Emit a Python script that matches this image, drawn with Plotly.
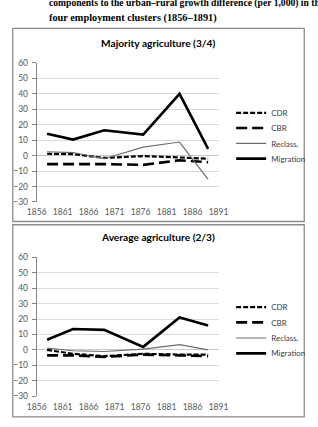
import plotly.graph_objects as go

W, H = 318, 427

years = [1858, 1863, 1869, 1876.5, 1883.5, 1889]
series_names = ["CDR", "CBR", "Reclass.", "Migration"]

maj_cdr = [1.2, 1.0, -1.5, -0.3, -1.2, -2.0]
maj_cbr = [-5.5, -5.5, -5.5, -6.0, -3.0, -4.3]
maj_reclass = [2.5, 2.0, -2.0, 5.5, 8.8, -15.3]
maj_migration = [14.2, 10.4, 16.4, 13.6, 40.0, 4.4]

avg_cdr = [0.0, -2.5, -4.0, -2.5, -3.0, -3.0]
avg_cbr = [-3.5, -3.5, -4.5, -3.0, -3.5, -4.0]
avg_reclass = [1.2, -0.5, -1.0, 0.5, 3.5, 0.0]
avg_migration = [6.6, 13.6, 13.0, 2.0, 21.0, 15.8]

panel_titles = ["Majority agriculture (3/4)", "Average agriculture (2/3)"]
header_lines = [
    "components to the urban\u2013rural growth difference (per 1,000) in the",
    "four employment clusters (1856\u20131891)",
]
x_ticks = [1856, 1861, 1866, 1871, 1876, 1881, 1886, 1891]
y_ticks = [-30, -20, -10, 0, 10, 20, 30, 40, 50, 60]

styles = {
    "CDR": dict(color="black", width=2.2, dash="5px,2px"),
    "CBR": dict(color="black", width=2.6, dash="11px,5px"),
    "Reclass.": dict(color="#6e6e6e", width=1.2),
    "Migration": dict(color="black", width=2.6),
}

def px_x(p):
    return p / W

def px_y(p):
    return 1 - p / H

fig = go.Figure()
panels = [
    (maj_cdr, maj_cbr, maj_reclass, maj_migration),
    (avg_cdr, avg_cbr, avg_reclass, avg_migration),
]
legend_rows = [[110.5, 126, 141.7, 157.3], [309.3, 325, 341, 356.7]]

layout_extra = {}
li = 0
for pi, data in enumerate(panels):
    for si, (name, vals) in enumerate(zip(series_names, data)):
        li += 1
        lname = "legend" if li == 1 else f"legend{li}"
        fig.add_trace(go.Scatter(
            x=years, y=vals, mode="lines", name=name,
            line=styles[name],
            xaxis="x" if pi == 0 else "x2",
            yaxis="y" if pi == 0 else "y2",
            legend=lname, showlegend=True,
        ))
        layout_extra[lname] = dict(
            x=px_x(236), y=px_y(legend_rows[pi][si]),
            xanchor="left", yanchor="middle",
            bgcolor="rgba(0,0,0,0)", borderwidth=0,
            font=dict(family="Lato, sans-serif", size=8, color="#404040"),
            itemwidth=30,
        )

tickfont = dict(family="Lato, sans-serif", size=8.5, color="#595959")
xd = [px_x(28.5), px_x(222.5)]
xcommon = dict(domain=xd, range=[1856, 1891], tickvals=x_ticks, showgrid=False,
               zeroline=False, showline=False, ticks="", tickfont=tickfont,
               ticklabelstandoff=4)
ycommon = dict(range=[-30, 60], tickvals=y_ticks,
               showgrid=True, gridcolor="#d9d9d9", gridwidth=1,
               showline=True, linecolor="#868686", linewidth=1, ticks="outside",
               ticklen=4, tickcolor="#868686", zeroline=True, zerolinecolor="#c8c8c8",
               zerolinewidth=1, tickfont=tickfont, ticklabelstandoff=2)
fig.update_layout(
    width=W, height=H,
    margin=dict(l=0, r=0, t=0, b=0),
    paper_bgcolor="white", plot_bgcolor="white",
    xaxis=dict(anchor="y", **xcommon),
    xaxis2=dict(anchor="y2", **xcommon),
    yaxis=dict(domain=[px_y(201.7), px_y(59.3)], anchor="x", **ycommon),
    yaxis2=dict(domain=[px_y(400.7), px_y(258.3)], anchor="x2", **ycommon),
    **layout_extra,
)

# panel frames
for top, bot in [(24, 221.7), (225, 421.7)]:
    fig.add_shape(type="rect", xref="paper", yref="paper",
                  x0=px_x(3), x1=px_x(314), y0=px_y(bot), y1=px_y(top),
                  line=dict(color="#8c8c8c", width=1.3), fillcolor="rgba(0,0,0,0)",
                  layer="below")

for t, yc in zip(panel_titles, [39, 237.7]):
    fig.add_annotation(text=f"<b>{t}</b>", xref="paper", yref="paper",
                       x=px_x(158), y=px_y(yc), showarrow=False,
                       xanchor="center", yanchor="middle",
                       font=dict(family="Lato, sans-serif", size=10.2, color="black"))

for t, yc, fs in zip(header_lines, [-2.0, 13.0], [9.6, 10.3]):
    fig.add_annotation(text=f"<b>{t}</b>", xref="paper", yref="paper",
                       x=px_x(40), y=px_y(yc), showarrow=False,
                       xanchor="left", yanchor="middle",
                       font=dict(family="Liberation Serif, serif", size=fs, color="black"))

fig.write_html("out.html")
